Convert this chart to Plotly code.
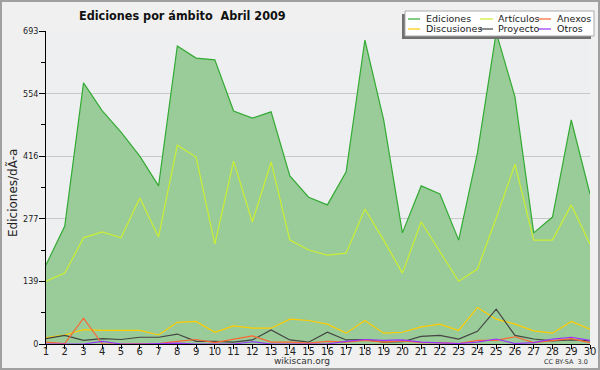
import plotly.graph_objects as go

days = list(range(1, 31))
ediciones = [175, 261, 578, 516, 469, 416, 350, 660, 633, 629, 516, 500, 514, 372, 325,
             308, 381, 673, 496, 246, 350, 332, 230, 423, 690, 547, 246, 281, 496, 332]
articulos = [139, 157, 235, 248, 235, 323, 237, 440, 414, 221, 405, 270, 403, 230, 208,
             197, 201, 299, 230, 157, 270, 204, 139, 166, 279, 398, 230, 230, 308, 221]
discusiones = [14, 20, 32, 30, 30, 30, 20, 48, 50, 26, 40, 35, 35, 55, 52,
               44, 24, 52, 24, 26, 38, 44, 30, 81, 55, 44, 29, 24, 50, 33]
proyecto = [12, 19, 8, 12, 10, 15, 15, 22, 6, 6, 4, 9, 31, 9, 4,
            26, 9, 10, 4, 5, 17, 19, 11, 28, 77, 19, 11, 7, 9, 7]
anexos = [4, 1, 57, 0, 0, 0, 1, 6, 10, 3, 11, 18, 4, 4, 2,
          6, 4, 8, 4, 7, 3, 3, 1, 8, 8, 16, 3, 8, 12, 3]
otros = [0, 0, 0, 6, 0, 0, 1, 2, 0, 0, 0, 5, 0, 0, 0,
         0, 6, 10, 8, 9, 4, 3, 1, 4, 11, 1, 3, 11, 15, 8]

ytick_vals = [0, 139, 277, 416, 554, 693]
ytick_text = ["0", "139", "277", "416", "554", "693"]
yminor_vals = [69.3, 208, 346.5, 485, 623.7]

series_names = ["Ediciones", "Artículos", "Anexos", "Discusiones", "Proyecto", "Otros"]
colors = {"Ediciones": "#33aa33", "Artículos": "#ccee33", "Anexos": "#ff6633",
          "Discusiones": "#ffcc00", "Proyecto": "#444444", "Otros": "#9933ff"}

W, H = 600, 370
L, R, T, B = 46, 590, 31, 344
PW, PH = R - L, B - T


def px(x):
    return (x - L) / PW


def py(y):
    return (B - y) / PH


fig = go.Figure()
fig.add_trace(go.Scatter(x=days, y=ediciones, mode="lines", fill="tozeroy",
                         fillcolor="#99cc99", line=dict(color=colors["Ediciones"], width=1.2),
                         name="Ediciones", showlegend=False))
for name, vals in [("Artículos", articulos), ("Discusiones", discusiones),
                   ("Proyecto", proyecto), ("Anexos", anexos), ("Otros", otros)]:
    fig.add_trace(go.Scatter(x=days, y=vals, mode="lines",
                             line=dict(color=colors[name], width=1.2),
                             name=name, showlegend=False))

shapes = []
annotations = []
# outer border
shapes.append(dict(type="rect", xref="paper", yref="paper",
                   x0=px(1), x1=px(W - 1), y0=py(1), y1=py(H - 1),
                   line=dict(color="#a0a0a0", width=2), fillcolor="rgba(0,0,0,0)", layer="below"))
# legend box with shadow
shapes.append(dict(type="rect", xref="paper", yref="paper",
                   x0=px(402), x1=px(591), y0=py(14), y1=py(39),
                   line=dict(width=0), fillcolor="#707070"))
shapes.append(dict(type="rect", xref="paper", yref="paper",
                   x0=px(405), x1=px(594), y0=py(11), y1=py(36),
                   line=dict(color="#aaaaaa", width=1), fillcolor="#ffffff"))
cols = [(408, 420, 424), (480, 493, 496), (538, 551, 555)]
rows = [19, 29]
for i, name in enumerate(series_names):
    r, c = divmod(i, 3)
    x0, x1, xt = cols[c]
    yy = rows[r]
    shapes.append(dict(type="line", xref="paper", yref="paper",
                       x0=px(x0), x1=px(x1), y0=py(yy), y1=py(yy),
                       line=dict(color=colors[name], width=1.2)))
    annotations.append(dict(xref="paper", yref="paper", x=px(xt), y=py(yy),
                            xanchor="left", yanchor="middle", showarrow=False,
                            text=name, font=dict(size=9.5, color="#222222",
                                                 family="DejaVu Sans")))

annotations.append(dict(xref="paper", yref="paper", x=px(182), y=py(15),
                        xanchor="center", yanchor="middle", showarrow=False,
                        text="<b>Ediciones por ámbito  Abril 2009</b>",
                        font=dict(size=12.5, color="#111111",
                                  family="DejaVu Sans Condensed, DejaVu Sans")))
annotations.append(dict(xref="paper", yref="paper", x=px(302), y=py(361),
                        xanchor="center", yanchor="middle", showarrow=False,
                        text="wikiscan.org",
                        font=dict(size=9, color="#333333", family="DejaVu Sans")))
annotations.append(dict(xref="paper", yref="paper", x=px(590), y=py(362),
                        xanchor="right", yanchor="middle", showarrow=False,
                        text="CC BY-SA  3.0",
                        font=dict(size=6.5, color="#333333", family="DejaVu Sans")))
annotations.append(dict(xref="paper", yref="paper", x=px(12), y=py(193),
                        xanchor="center", yanchor="middle", showarrow=False,
                        textangle=-90, text="Ediciones/dÃ-a",
                        font=dict(size=12, color="#222222", family="DejaVu Sans")))

fig.update_layout(
    width=W, height=H,
    margin=dict(l=L, r=W - R, t=T, b=H - B, pad=0, autoexpand=False),
    paper_bgcolor="#f0f0f0", plot_bgcolor="#eeeff1",
    font=dict(family="DejaVu Sans", color="#222222"),
    showlegend=False,
    shapes=shapes, annotations=annotations,
    xaxis=dict(range=[1, 30], tickvals=days, ticktext=[str(d) for d in days],
               ticks="outside", ticklen=4, tickcolor="#000000", showgrid=False,
               zeroline=False, showline=True, linecolor="#000000", linewidth=1,
               tickfont=dict(size=10, color="#222222"), fixedrange=True,
               automargin=False, ticklabelstandoff=-6),
    yaxis=dict(range=[0, 693], tickvals=ytick_vals, ticktext=ytick_text,
               ticks="outside", ticklen=6, tickcolor="#000000",
               showgrid=True, gridcolor="#c8c8c8", gridwidth=1,
               zeroline=False, showline=True, linecolor="#000000", linewidth=1,
               tickfont=dict(size=8, color="#222222"),
               minor=dict(tickvals=yminor_vals, ticks="outside", ticklen=4,
                          tickcolor="#000000", showgrid=False),
               fixedrange=True, automargin=False, ticklabelstandoff=-1),
)

fig.write_html("out.html", config={"displayModeBar": False, "staticPlot": True},
               post_script="document.body.style.margin='0';document.body.style.padding='0';")
